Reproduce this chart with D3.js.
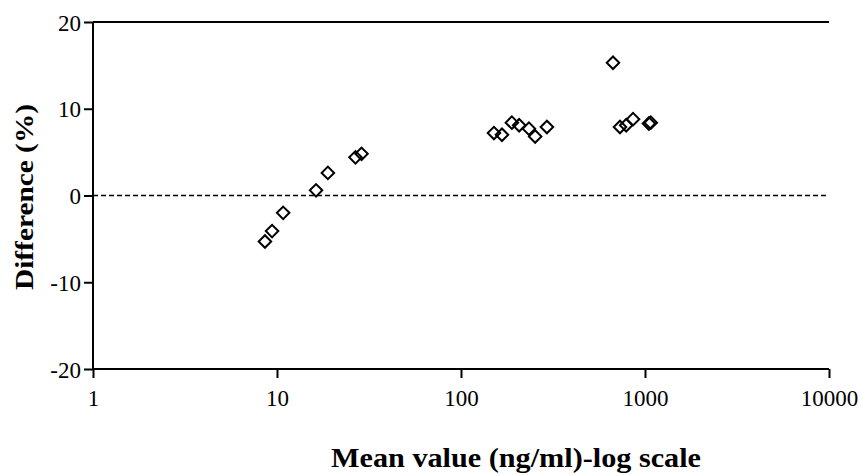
<!DOCTYPE html>
<html>
<head>
<meta charset="utf-8">
<script src="https://cdn.jsdelivr.net/npm/d3@7"></script>
<style>
  body { margin: 0; background: #fff; }
  svg text { font-family: "Liberation Serif", "Times New Roman", serif; }
</style>
</head>
<body>
<svg id="chart" width="861" height="475"></svg>
<script>
// mean value (ng/ml) and % difference
let MEAN_VALUES = [8.6, 9.4, 10.8, 16.3, 18.9, 26.7, 28.8,
    151, 167, 189, 207, 234, 253, 293,
    670, 731, 790, 861, 1050, 1075];
let DIFFERENCES = [-5.3, -4.1, -2.0, 0.6, 2.6, 4.4, 4.8,
    7.2, 7.0, 8.4, 8.1, 7.7, 6.8, 7.9,
    15.3, 7.9, 8.1, 8.8, 8.3, 8.4];
let X_TICKS = [1, 10, 100, 1000, 10000];
let Y_TICKS = [-20, -10, 0, 10, 20];

let LEFT = 93, RIGHT = 829, TOP = 22, BOTTOM = 369;

let svg = d3.select('#chart');

let x = d3.scaleLog().domain([1, 10000]).range([LEFT, RIGHT]);
let y = d3.scaleLinear().domain([-20, 20]).range([BOTTOM, TOP]);

// axes (plain hyphen for negatives, like the original)
let xAxis = svg.append('g')
    .attr('transform', `translate(0,${BOTTOM})`)
    .call(d3.axisBottom(x).tickValues(X_TICKS).tickFormat(d => String(d)).tickSize(9).tickPadding(12));
let yAxis = svg.append('g')
    .attr('transform', `translate(${LEFT},0)`)
    .call(d3.axisLeft(y).tickValues(Y_TICKS).tickFormat(d => String(d)).tickSize(9).tickPadding(3));

[xAxis, yAxis].forEach(g => {
    g.select('.domain').attr('stroke', '#000').attr('stroke-width', 2);
    g.selectAll('.tick line').attr('stroke', '#000').attr('stroke-width', 2);
    g.selectAll('.tick text')
        .attr('fill', '#000')
        .style('font-size', '23px')
        .style('font-family', '"Liberation Serif", serif');
});
yAxis.selectAll('.tick text').attr('dy', '0.35em');
xAxis.select('.domain').attr('d', `M${LEFT},0H${RIGHT}`);
yAxis.select('.domain').attr('d', `M0,${BOTTOM}V${TOP}`);

// top frame line
svg.append('line')
    .attr('x1', LEFT).attr('x2', RIGHT)
    .attr('y1', y(20)).attr('y2', y(20))
    .attr('stroke', '#000').attr('stroke-width', 2);

// zero reference line
svg.append('line')
    .attr('x1', LEFT).attr('x2', RIGHT)
    .attr('y1', y(0)).attr('y2', y(0))
    .attr('stroke', '#000').attr('stroke-width', 1.3)
    .attr('stroke-dasharray', '5,3');

// open diamonds
let points = MEAN_VALUES.map((v, i) => ({ v: v, d: DIFFERENCES[i] }));
let diamond = d3.symbol().type(d3.symbolSquare).size(78);
svg.selectAll('path.pt').data(points).enter().append('path')
    .attr('class', 'pt')
    .attr('d', diamond)
    .attr('transform', p => `translate(${x(p.v)},${y(p.d)}) rotate(45)`)
    .attr('fill', 'none')
    .attr('stroke', '#000')
    .attr('stroke-width', 2);

// axis titles
svg.append('text')
    .attr('x', 516).attr('y', 467)
    .attr('text-anchor', 'middle')
    .attr('textLength', 370).attr('lengthAdjust', 'spacingAndGlyphs')
    .style('font-size', '27px').style('font-weight', 'bold')
    .text('Mean value (ng/ml)-log scale');
svg.append('text')
    .attr('transform', `translate(33,197) rotate(-90)`)
    .attr('text-anchor', 'middle')
    .attr('textLength', 186).attr('lengthAdjust', 'spacingAndGlyphs')
    .style('font-size', '25px').style('font-weight', 'bold')
    .text('Difference (%)');
</script>
</body>
</html>
